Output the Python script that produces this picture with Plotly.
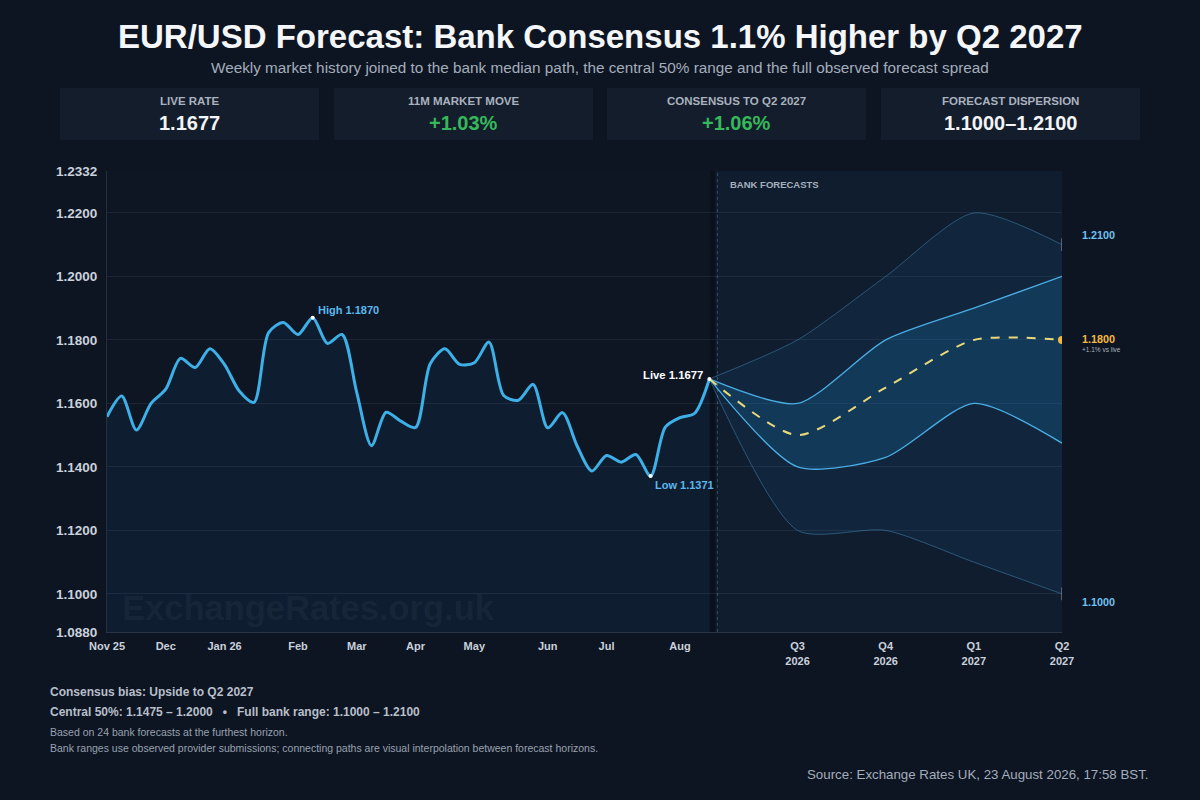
import plotly.graph_objects as go

# ---------------- data ----------------
hist_x = list(range(42))
hist_rate = [1.1558, 1.1623, 1.1516, 1.1600, 1.1645, 1.1742, 1.1713, 1.1772, 1.1722, 1.1639,
             1.1603, 1.1823, 1.1855, 1.1817, 1.1870, 1.1789, 1.1817, 1.1634, 1.1467, 1.1572,
             1.1544, 1.1524, 1.1725, 1.1772, 1.1723, 1.1728, 1.1793, 1.1625, 1.1610, 1.1660,
             1.1523, 1.1571, 1.1466, 1.1387, 1.1436, 1.1415, 1.1439, 1.1371, 1.1525, 1.1555,
             1.1569, 1.1677]

fc_x = [41, 47, 53, 59, 65]
fc_median = [1.1677, 1.1500, 1.1650, 1.1800, 1.1800]
fc_q_upper = [1.1677, 1.1600, 1.1800, 1.1900, 1.2000]
fc_q_lower = [1.1677, 1.1400, 1.1430, 1.1600, 1.1475]
fc_full_upper = [1.1677, 1.1800, 1.2000, 1.2200, 1.2100]
fc_full_lower = [1.1677, 1.1200, 1.1200, 1.1100, 1.1000]

x_tickvals = [0, 4, 8, 13, 17, 21, 25, 30, 34, 39, 47, 53, 59, 65]
x_ticktext = ["Nov 25", "Dec", "Jan 26", "Feb", "Mar", "Apr", "May", "Jun", "Jul", "Aug",
              "Q3<br>2026", "Q4<br>2026", "Q1<br>2027", "Q2<br>2027"]
y_tickvals = [1.0880, 1.1000, 1.1200, 1.1400, 1.1600, 1.1800, 1.2000, 1.2200, 1.2332]
y_ticktext = ["1.0880", "1.1000", "1.1200", "1.1400", "1.1600", "1.1800", "1.2000", "1.2200", "1.2332"]

kpi_labels = ["LIVE RATE", "11M MARKET MOVE", "CONSENSUS TO Q2 2027", "FORECAST DISPERSION"]
kpi_values = ["1.1677", "+1.03%", "+1.06%", "1.1000–1.2100"]
kpi_colors = ["#f2f4f7", "#35b85a", "#35b85a", "#f2f4f7"]

hi_idx, lo_idx, live_idx = 14, 37, 41

# ---------------- layout helpers ----------------
W, H = 1200, 800
L, R, T, B = 107, 1062, 171, 632
FONT = "Liberation Sans, Arial, sans-serif"
BG = "#0e1522"
SM = 0.7


def px(xp):
    return (xp - L) / (R - L)


def py(yp):
    return (B - yp) / (B - T)


fig = go.Figure()

# history area + line
fig.add_trace(go.Scatter(x=hist_x, y=hist_rate, mode="lines", line=dict(color="#3db0e8", width=3, shape="spline", smoothing=0.8),
                         fill="tozeroy", fillcolor="rgba(40,120,190,0.08)", hoverinfo="skip", showlegend=False))

# full range band
fig.add_trace(go.Scatter(x=fc_x, y=fc_full_lower, mode="lines", line=dict(color="rgba(70,140,190,0.5)", width=1, shape="spline", smoothing=SM),
                         showlegend=False, hoverinfo="skip"))
fig.add_trace(go.Scatter(x=fc_x, y=fc_full_upper, mode="lines", line=dict(color="rgba(70,140,190,0.5)", width=1, shape="spline", smoothing=SM),
                         fill="tonexty", fillcolor="rgba(30,100,150,0.14)", showlegend=False, hoverinfo="skip"))
# central 50% band
fig.add_trace(go.Scatter(x=fc_x, y=fc_q_lower, mode="lines", line=dict(color="#4aaee4", width=1.3, shape="spline", smoothing=SM),
                         showlegend=False, hoverinfo="skip"))
fig.add_trace(go.Scatter(x=fc_x, y=fc_q_upper, mode="lines", line=dict(color="#4aaee4", width=1.3, shape="spline", smoothing=SM),
                         fill="tonexty", fillcolor="rgba(25,110,170,0.27)", showlegend=False, hoverinfo="skip"))
# median
fig.add_trace(go.Scatter(x=fc_x, y=fc_median, mode="lines", line=dict(color="#e9d87a", width=2, dash="dash", shape="spline", smoothing=SM),
                         showlegend=False, hoverinfo="skip"))
fig.add_trace(go.Scatter(x=[fc_x[-1]], y=[fc_median[-1]], mode="markers", marker=dict(color="#f5b942", size=8),
                         showlegend=False, hoverinfo="skip"))
# end ticks of full range
fig.add_trace(go.Scatter(x=[fc_x[-1], fc_x[-1]], y=[fc_full_upper[-1], fc_full_lower[-1]], mode="markers",
                         marker=dict(symbol="line-ns", size=9, line=dict(color="#6b7888", width=1.5)),
                         showlegend=False, hoverinfo="skip"))
# key point dots
fig.add_trace(go.Scatter(x=[hi_idx, lo_idx, live_idx], y=[hist_rate[hi_idx], hist_rate[lo_idx], hist_rate[live_idx]],
                         mode="markers", marker=dict(color="#ffffff", size=4), showlegend=False, hoverinfo="skip"))

shapes = []
# forecast zone
shapes.append(dict(type="rect", xref="x", yref="paper", x0=41.4, x1=65, y0=0, y1=1,
                   fillcolor="rgba(40,100,150,0.09)", line=dict(width=0), layer="below"))
shapes.append(dict(type="rect", xref="x", yref="paper", x0=41.05, x1=41.4, y0=0, y1=1,
                   fillcolor="rgba(5,10,18,0.45)", line=dict(width=0), layer="below"))
shapes.append(dict(type="line", xref="x", yref="paper", x0=41.55, x1=41.55, y0=0, y1=1,
                   line=dict(color="rgba(140,160,185,0.35)", width=1, dash="dot")))
# kpi cards
card_x = [(60, 319), (334, 593), (607, 866), (881, 1140)]
for (x0, x1) in card_x:
    shapes.append(dict(type="rect", xref="paper", yref="paper", x0=px(x0), x1=px(x1), y0=py(140), y1=py(88),
                       fillcolor="#141d2b", line=dict(width=0)))

ann = []
ann.append(dict(x=px(600), y=py(36), xref="paper", yref="paper", text="<b>EUR/USD Forecast: Bank Consensus 1.1% Higher by Q2 2027</b>",
                showarrow=False, font=dict(size=33, color="#f4f6f9", family=FONT), xanchor="center", yanchor="middle"))
ann.append(dict(x=px(600), y=py(67), xref="paper", yref="paper",
                text="Weekly market history joined to the bank median path, the central 50% range and the full observed forecast spread",
                showarrow=False, font=dict(size=15.3, color="#a3adbb", family=FONT), xanchor="center", yanchor="middle"))
for (x0, x1), lab, val, col in zip(card_x, kpi_labels, kpi_values, kpi_colors):
    cx = (x0 + x1) / 2
    ann.append(dict(x=px(cx), y=py(101), xref="paper", yref="paper", text=f"<b>{lab}</b>", showarrow=False,
                    font=dict(size=11.5, color="#a9b2bf", family=FONT), xanchor="center", yanchor="middle"))
    ann.append(dict(x=px(cx), y=py(123), xref="paper", yref="paper", text=f"<b>{val}</b>", showarrow=False,
                    font=dict(size=20, color=col, family=FONT), xanchor="center", yanchor="middle"))

# point labels
ann.append(dict(x=hi_idx, y=hist_rate[hi_idx], text=f"<b>High {hist_rate[hi_idx]:.4f}</b>", showarrow=False,
                xanchor="left", yanchor="bottom", xshift=3, yshift=0, font=dict(size=11, color="#5bb8ee", family=FONT)))
ann.append(dict(x=lo_idx, y=hist_rate[lo_idx], text=f"<b>Low {hist_rate[lo_idx]:.4f}</b>", showarrow=False,
                xanchor="left", yanchor="top", xshift=2, yshift=-1, font=dict(size=11, color="#5bb8ee", family=FONT)))
ann.append(dict(x=live_idx, y=hist_rate[live_idx], text=f"<b>Live {hist_rate[live_idx]:.4f}</b>", showarrow=False,
                xanchor="right", yanchor="middle", xshift=-4, yshift=4, font=dict(size=11.3, color="#ffffff", family=FONT)))
ann.append(dict(x=px(728), y=py(184), xref="paper", yref="paper", text="<b>BANK FORECASTS</b>", showarrow=False,
                xanchor="left", yanchor="middle", font=dict(size=9.5, color="#a7b1be", family=FONT)))
# right labels
ann.append(dict(x=px(1080), y=fc_full_upper[-1], xref="paper", yref="y", text=f"<b>{fc_full_upper[-1]:.4f}</b>", showarrow=False,
                xanchor="left", yanchor="middle", yshift=10, font=dict(size=10.8, color="#6ec1f0", family=FONT)))
ann.append(dict(x=px(1080), y=fc_median[-1], xref="paper", yref="y", text=f"<b>{fc_median[-1]:.4f}</b>", showarrow=False,
                xanchor="left", yanchor="middle", yshift=1, font=dict(size=10.8, color="#f5b942", family=FONT)))
ann.append(dict(x=px(1080), y=fc_median[-1], xref="paper", yref="y", text="+1.1% vs live", showarrow=False,
                xanchor="left", yanchor="middle", yshift=-10, font=dict(size=6.5, color="#a9b2bf", family=FONT)))
ann.append(dict(x=px(1080), y=fc_full_lower[-1], xref="paper", yref="y", text=f"<b>{fc_full_lower[-1]:.4f}</b>", showarrow=False,
                xanchor="left", yanchor="middle", yshift=-8, font=dict(size=10.8, color="#6ec1f0", family=FONT)))
# watermark
ann.append(dict(x=px(120), y=py(608), xref="paper", yref="paper", text="<b>ExchangeRates.org.uk</b>", showarrow=False,
                xanchor="left", yanchor="middle", font=dict(size=34.5, color="rgba(150,170,195,0.07)", family=FONT)))
# footer
ann.append(dict(x=px(48), y=py(692), xref="paper", yref="paper", text="<b>Consensus bias: Upside to Q2 2027</b>", showarrow=False,
                xanchor="left", yanchor="middle", font=dict(size=12, color="#b7bfca", family=FONT)))
ann.append(dict(x=px(48), y=py(712), xref="paper", yref="paper",
                text="<b>Central 50%: 1.1475 – 1.2000   •   Full bank range: 1.1000 – 1.2100</b>", showarrow=False,
                xanchor="left", yanchor="middle", font=dict(size=12, color="#b7bfca", family=FONT)))
ann.append(dict(x=px(48), y=py(732), xref="paper", yref="paper", text="Based on 24 bank forecasts at the furthest horizon.",
                showarrow=False, xanchor="left", yanchor="middle", font=dict(size=10.5, color="#98a2b0", family=FONT)))
ann.append(dict(x=px(48), y=py(748), xref="paper", yref="paper",
                text="Bank ranges use observed provider submissions; connecting paths are visual interpolation between forecast horizons.",
                showarrow=False, xanchor="left", yanchor="middle", font=dict(size=10.5, color="#98a2b0", family=FONT)))
ann.append(dict(x=px(1151), y=py(774), xref="paper", yref="paper", text="Source: Exchange Rates UK, 23 August 2026, 17:58 BST.",
                showarrow=False, xanchor="right", yanchor="middle", font=dict(size=13.3, color="#a3adbb", family=FONT)))

fig.update_layout(
    width=W, height=H,
    paper_bgcolor=BG, plot_bgcolor="#0e1624",
    margin=dict(l=L, r=W - R, t=T, b=H - B, pad=0),
    font=dict(family=FONT, color="#c9d1dc"),
    showlegend=False,
    shapes=shapes, annotations=ann,
    xaxis=dict(range=[0, 65], tickmode="array", tickvals=x_tickvals, ticktext=x_ticktext,
               showgrid=False, zeroline=False, showline=True, linecolor="#2a3646", linewidth=1,
               ticks="", ticklabelstandoff=4,
               tickfont=dict(size=11, color="#c9d1dc", family=FONT, weight="bold")),
    yaxis=dict(range=[1.0880, 1.2332], tickmode="array", tickvals=y_tickvals, ticktext=y_ticktext,
               showgrid=True, gridcolor="rgba(120,145,175,0.14)", gridwidth=1, zeroline=False,
               showline=True, linecolor="#243040", linewidth=1, ticks="", ticklabelstandoff=6,
               tickfont=dict(size=13.5, color="#c9d1dc", family=FONT, weight="bold")),
)

fig.write_html("out.html", config={"displayModeBar": False},
               post_script="document.body.style.margin='0';document.body.style.padding='0';"
                           "document.body.style.background='#0e1522';")
